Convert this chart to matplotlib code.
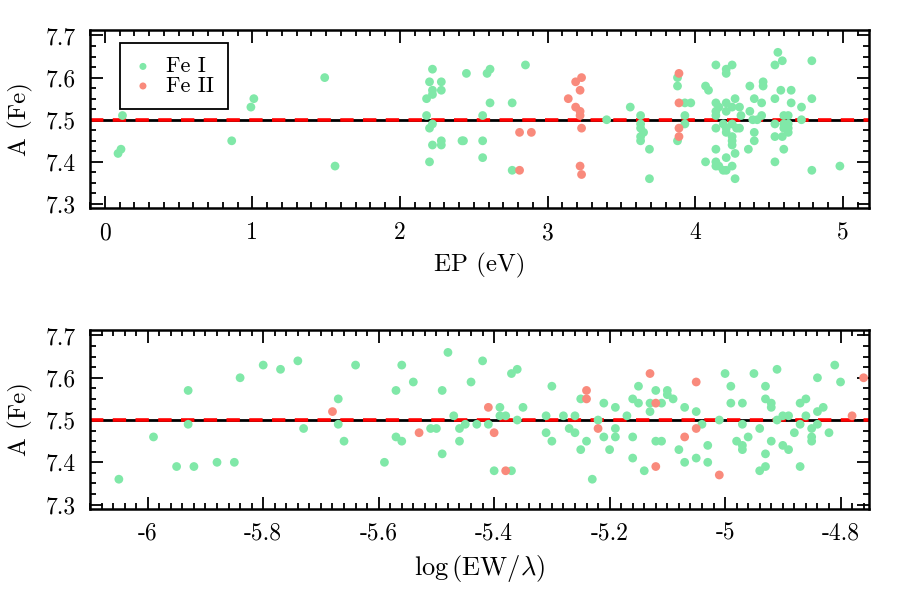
import matplotlib
matplotlib.use('Agg')
import matplotlib.pyplot as plt
from matplotlib.ticker import MultipleLocator, FuncFormatter

plt.rcParams['font.family'] = 'serif'
plt.rcParams['font.serif'] = ['cmr10']
plt.rcParams['mathtext.fontset'] = 'cm'
plt.rcParams['axes.unicode_minus'] = False
plt.rcParams['axes.formatter.use_mathtext'] = True

# Fe I lines: excitation potential (eV) and abundance
ep_fe1 = [0.12, 0.11, 0.09, 0.86, 0.99, 1.01, 1.49, 1.56,
          2.22, 2.20, 2.28, 2.22, 2.28, 2.22, 2.18, 2.18, 2.22, 2.20, 2.22, 2.28, 2.28, 2.20,
          2.45, 2.42, 2.43, 2.59, 2.61, 2.61, 2.56, 2.56, 2.56, 2.85, 2.76, 2.76,
          3.40, 3.56, 3.63, 3.63, 3.63, 3.65, 3.63, 3.63, 3.69, 3.69,
          3.88, 3.88, 3.88, 3.93, 3.97, 3.93, 3.93,
          4.14, 4.21, 4.21, 4.25, 4.07, 4.09, 4.14, 4.14, 4.14, 4.16, 4.21, 4.25, 4.30, 4.27,
          4.21, 4.31, 4.14, 4.19, 4.21, 4.21, 4.25, 4.28, 4.30, 4.25, 4.25, 4.25, 4.14, 4.27,
          4.07, 4.14, 4.16, 4.14, 4.21, 4.19, 4.21, 4.25, 4.27,
          4.37, 4.46, 4.46, 4.40, 4.45, 4.37, 4.39, 4.45, 4.42, 4.40, 4.40, 4.36,
          4.56, 4.59, 4.54, 4.58, 4.65, 4.54, 4.65, 4.60, 4.63, 4.54, 4.60, 4.63, 4.60, 4.63,
          4.63, 4.54, 4.59, 4.60, 4.54, 4.72, 4.72, 4.79, 4.79, 4.79, 4.98]
ab_fe1_ep = [7.51, 7.43, 7.42, 7.45, 7.53, 7.55, 7.60, 7.39,
             7.62, 7.59, 7.59, 7.57, 7.57, 7.56, 7.55, 7.51, 7.49, 7.48, 7.44, 7.45, 7.44, 7.40,
             7.61, 7.45, 7.45, 7.61, 7.62, 7.54, 7.51, 7.45, 7.41, 7.63, 7.54, 7.38,
             7.50, 7.53, 7.51, 7.49, 7.48, 7.47, 7.46, 7.45, 7.43, 7.36,
             7.60, 7.58, 7.45, 7.54, 7.54, 7.51, 7.49,
             7.63, 7.62, 7.61, 7.63, 7.58, 7.57, 7.54, 7.52, 7.51, 7.53, 7.54, 7.53, 7.53, 7.55,
             7.52, 7.51, 7.48, 7.49, 7.48, 7.47, 7.49, 7.48, 7.48, 7.46, 7.45, 7.44, 7.43, 7.42,
             7.40, 7.40, 7.39, 7.39, 7.41, 7.38, 7.38, 7.39, 7.36,
             7.58, 7.59, 7.58, 7.55, 7.54, 7.52, 7.50, 7.51, 7.50, 7.47, 7.45, 7.43,
             7.66, 7.64, 7.63, 7.57, 7.57, 7.55, 7.54, 7.51, 7.51, 7.49, 7.49, 7.49, 7.48, 7.48,
             7.47, 7.46, 7.46, 7.43, 7.40, 7.53, 7.50, 7.64, 7.55, 7.38, 7.39]

# Fe II lines
ep_fe2 = [3.23, 3.19, 3.22, 3.14, 3.19, 3.22, 3.22, 3.23, 2.81, 2.89, 2.81, 3.22, 3.23,
          3.89, 3.89, 3.89, 3.89]
ab_fe2_ep = [7.60, 7.59, 7.57, 7.55, 7.53, 7.52, 7.51, 7.48, 7.47, 7.47, 7.38, 7.39, 7.37,
             7.61, 7.54, 7.48, 7.46]

# reduced equivalent width log(EW/lambda)
rew_fe1 = [-6.05, -5.99, -5.95, -5.93, -5.93, -5.92, -5.88, -5.85, -5.84, -5.80, -5.77, -5.74,
           -5.73, -5.67, -5.67, -5.66, -5.64, -5.59, -5.57, -5.57, -5.56, -5.56, -5.54,
           -5.49, -5.49, -5.48, -5.51, -5.50, -5.47, -5.46, -5.46, -5.45, -5.44, -5.43, -5.42,
           -5.41, -5.39, -5.39, -5.38, -5.40, -5.37, -5.37, -5.36, -5.36, -5.35,
           -5.31, -5.31, -5.30, -5.30, -5.28, -5.27, -5.26, -5.26, -5.25, -5.25, -5.24, -5.23,
           -5.22, -5.21, -5.21, -5.20, -5.19, -5.19, -5.19, -5.17,
           -5.16, -5.16, -5.16, -5.15, -5.15, -5.14, -5.13, -5.13, -5.12, -5.12, -5.11, -5.11,
           -5.10, -5.10, -5.09, -5.08, -5.07, -5.07, -5.05, -5.05, -5.04, -5.03, -5.03, -5.01,
           -5.00, -4.99, -4.99, -4.98, -4.97, -4.97, -4.97, -4.97, -4.96, -4.95, -4.94, -4.94,
           -4.93, -4.93, -4.93, -4.93, -4.92, -4.92, -4.92, -4.91, -4.91, -4.90, -4.89, -4.90,
           -4.89, -4.88, -4.87, -4.87, -4.87, -4.86, -4.86, -4.85, -4.85, -4.85, -4.84, -4.84,
           -4.84, -4.83, -4.82, -4.81, -4.80]
ab_fe1_rew = [7.36, 7.46, 7.39, 7.57, 7.49, 7.39, 7.40, 7.40, 7.60, 7.63, 7.62, 7.64,
              7.48, 7.55, 7.49, 7.45, 7.63, 7.40, 7.57, 7.46, 7.63, 7.45, 7.59,
              7.57, 7.42, 7.66, 7.48, 7.48, 7.51, 7.48, 7.45, 7.49, 7.59, 7.49, 7.64,
              7.49, 7.53, 7.51, 7.51, 7.38, 7.38, 7.61, 7.62, 7.50, 7.53,
              7.51, 7.47, 7.58, 7.45, 7.51, 7.48, 7.51, 7.47, 7.55, 7.43, 7.45, 7.36,
              7.50, 7.54, 7.46, 7.43, 7.53, 7.48, 7.46, 7.51,
              7.55, 7.46, 7.41, 7.58, 7.54, 7.38, 7.54, 7.52, 7.57, 7.45, 7.45, 7.54,
              7.57, 7.56, 7.55, 7.43, 7.53, 7.40, 7.52, 7.41, 7.49, 7.44, 7.40, 7.50,
              7.61, 7.58, 7.54, 7.45, 7.54, 7.49, 7.44, 7.43, 7.46, 7.61, 7.48, 7.38,
              7.58, 7.55, 7.42, 7.39, 7.54, 7.53, 7.45, 7.62, 7.50, 7.51, 7.51, 7.44,
              7.43, 7.47, 7.54, 7.49, 7.39, 7.55, 7.51, 7.48, 7.46, 7.45, 7.49, 7.52,
              7.60, 7.53, 7.47, 7.63, 7.59]

rew_fe2 = [-5.68, -5.53, -5.41, -5.40, -5.38, -5.24, -5.24, -5.22, -5.13, -5.12, -5.12,
           -5.05, -5.05, -5.07, -5.01, -4.78, -4.76]
ab_fe2_rew = [7.52, 7.47, 7.53, 7.47, 7.38, 7.57, 7.55, 7.48, 7.61, 7.54, 7.39,
              7.59, 7.48, 7.46, 7.37, 7.51, 7.60]

mean_fe = 7.50

green = '#80e8a8'
salmon = '#f98a7c'

fig = plt.figure(figsize=(9, 6), dpi=100)
ax1 = fig.add_axes([0.1, 0.653, 0.866, 0.297])
ax2 = fig.add_axes([0.1, 0.152, 0.866, 0.298])


def style_axis(ax, xmajor, xminor):
    ax.set_ylim(7.29, 7.713)
    ax.yaxis.set_major_locator(MultipleLocator(0.1))
    ax.yaxis.set_minor_locator(MultipleLocator(0.025))
    ax.xaxis.set_major_locator(MultipleLocator(xmajor))
    ax.xaxis.set_minor_locator(MultipleLocator(xminor))
    ax.xaxis.set_major_formatter(FuncFormatter(lambda v, p: '%g' % round(v, 3)))
    ax.yaxis.set_major_formatter(FuncFormatter(lambda v, p: '%.1f' % v))
    ax.tick_params(which='both', direction='in', top=True, right=True, labelsize=17, width=1.3)
    ax.tick_params(which='major', length=9, pad=10)
    ax.tick_params(which='minor', length=4.5)
    for s in ax.spines.values():
        s.set_linewidth(1.8)
    ax.set_ylabel('A (Fe)', fontsize=18, labelpad=9)
    ax.axhline(mean_fe, color='black', lw=2.0, zorder=1)
    ax.axhline(mean_fe, color='red', lw=2.6, ls=(0, (3.7, 2.6)), zorder=2)


ax1.scatter(ep_fe1, ab_fe1_ep, s=40, color=green, edgecolors='none', zorder=3, label='Fe I')
ax1.scatter(ep_fe2, ab_fe2_ep, s=40, color=salmon, edgecolors='none', zorder=3, label='Fe II')
ax1.set_xlim(-0.1, 5.18)
style_axis(ax1, 1, 0.1)
ax1.set_xlabel('EP (eV)', fontsize=18, labelpad=6)
leg = ax1.legend(loc='upper left', bbox_to_anchor=(0.038, 0.925), fontsize=16,
                 fancybox=False, framealpha=1, edgecolor='black', labelspacing=0.0,
                 handletextpad=0.6, borderpad=0.6, handlelength=0.9, scatterpoints=1,
                 borderaxespad=0, markerscale=0.8)
leg.get_frame().set_linewidth(1.3)

ax2.scatter(rew_fe1, ab_fe1_rew, s=40, color=green, edgecolors='none', zorder=3)
ax2.scatter(rew_fe2, ab_fe2_rew, s=40, color=salmon, edgecolors='none', zorder=3)
ax2.set_xlim(-6.1, -4.75)
style_axis(ax2, 0.2, 0.02)
ax2.set_xlabel(r'$\log\left(\mathrm{EW}/\lambda\right)$', fontsize=19, labelpad=6)

fig.savefig('out.png', dpi=100)
